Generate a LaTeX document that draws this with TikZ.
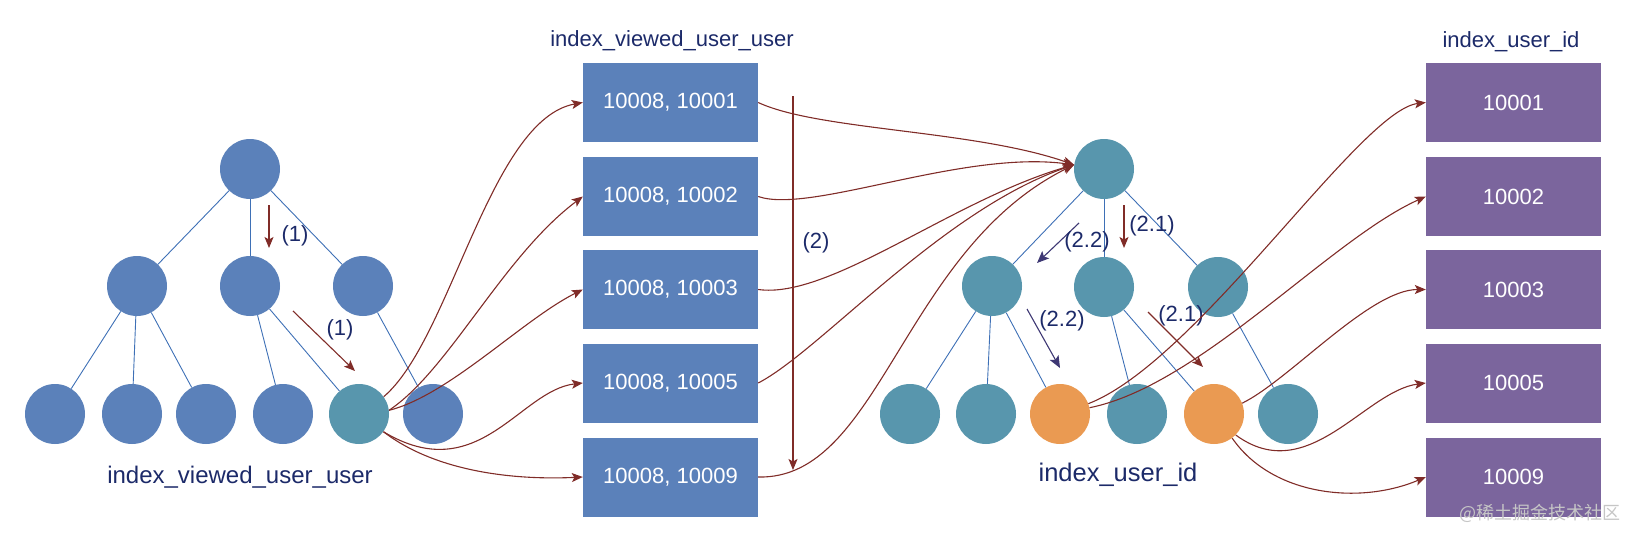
\documentclass[tikz,border=0pt]{standalone}
\usepackage{fontspec}
\setmainfont{Liberation Sans}
\newfontfamily\cjkfont{Noto Sans CJK SC}
\usetikzlibrary{arrows.meta}
\definecolor{cblue}{RGB}{91,129,186}
\definecolor{cteal}{RGB}{88,150,173}
\definecolor{corange}{RGB}{234,154,82}
\definecolor{cpurple}{RGB}{123,101,157}
\definecolor{cred}{RGB}{128,44,40}
\definecolor{cnavy}{RGB}{28,42,105}
\definecolor{cviolet}{RGB}{62,56,116}
\definecolor{cedge}{RGB}{62,112,182}
\begin{document}
\begin{tikzpicture}[x=1pt,y=-1pt,
  circ/.style={circle,minimum size=60pt,inner sep=0pt,draw=none},
  bnode/.style={circ,fill=cblue},
  tnode/.style={circ,fill=cteal},
  onode/.style={circ,fill=corange},
  kbox/.style={rectangle,minimum width=175pt,minimum height=79pt,inner sep=0pt,text=white,font=\fontsize{22}{26}\selectfont},
  bbox/.style={kbox,fill=cblue},
  pbox/.style={kbox,fill=cpurple},
  treeline/.style={draw=cedge,line width=0.9pt},
  arr/.style={draw=cred,line width=1.1pt,-{Stealth[length=11pt,width=9pt,inset=2.5pt]}},
  varr/.style={draw=cviolet,line width=1.1pt,-{Stealth[length=12pt,width=10pt,inset=2.5pt]}},
  lbl/.style={text=cnavy,font=\fontsize{22}{26}\selectfont,inner sep=0pt},
  ttl/.style={text=cnavy,inner sep=0pt,anchor=base},
]
\useasboundingbox (0,0) rectangle (1638,546);

% ---------- left tree ----------
\node[bnode] (LR) at (250,169) {};
\node[bnode] (LA) at (137,286) {};
\node[bnode] (LB) at (250,286) {};
\node[bnode] (LC) at (363,286) {};
\node[bnode] (L1) at (55,414) {};
\node[bnode] (L2) at (132,414) {};
\node[bnode] (L3) at (206,414) {};
\node[bnode] (L4) at (283,414) {};
\node[tnode] (L5) at (359,414) {};
\node[bnode] (L6) at (433,414) {};
\foreach \a/\b in {LR/LA,LR/LB,LR/LC,LA/L1,LA/L2,LA/L3,LB/L4,LB/L5,LC/L6}
  \draw[treeline] (\a) -- (\b);
\node[ttl,font=\fontsize{24}{28}\selectfont] (ltitle) at (240,483) {index\_viewed\_user\_user};

% ---------- middle tree ----------
\node[tnode] (MR) at (1104,169) {};
\node[tnode] (MA) at (992,286) {};
\node[tnode] (MB) at (1104,287) {};
\node[tnode] (MC) at (1218,287) {};
\node[tnode] (N1) at (910,414) {};
\node[tnode] (N2) at (986,414) {};
\node[onode] (N3) at (1060,414) {};
\node[tnode] (N4) at (1137,414) {};
\node[onode] (N5) at (1214,414) {};
\node[tnode] (N6) at (1288,414) {};
\foreach \a/\b in {MR/MA,MR/MB,MR/MC,MA/N1,MA/N2,MA/N3,MB/N4,MB/N5,MC/N6}
  \draw[treeline] (\a) -- (\b);
\node[ttl,font=\fontsize{25.5}{30}\selectfont] (mtitle) at (1118,481) {index\_user\_id};

% ---------- boxes ----------
\node[ttl,font=\fontsize{22}{26}\selectfont] (btitle) at (672,46) {index\_viewed\_user\_user};
\node[bbox] (B1) at (670.5,102.5) {10008, 10001};
\node[bbox] (B2) at (670.5,196.5) {10008, 10002};
\node[bbox] (B3) at (670.5,289.5) {10008, 10003};
\node[bbox] (B4) at (670.5,383) {10008, 10005};
\node[bbox] (B5) at (670.5,477) {10008, 10009};

\node[ttl,font=\fontsize{22}{26}\selectfont] (ptitle) at (1511,47) {index\_user\_id};
\node[pbox] (P1) at (1513.5,102.5) {10001};
\node[pbox] (P2) at (1513.5,196.5) {10002};
\node[pbox] (P3) at (1513.5,289.5) {10003};
\node[pbox] (P4) at (1513.5,383) {10005};
\node[pbox] (P5) at (1513.5,477) {10009};

% ---------- step arrows ----------
\coordinate (s1a) at (269,205); \coordinate (s1b) at (269,248);
\draw[arr] (s1a) -- (s1b);
\node[lbl] (l1a) at (295,236) {(1)};
\coordinate (s2a) at (293,311); \coordinate (s2b) at (355,371);
\draw[arr] (s2a) -- (s2b);
\node[lbl] (l1b) at (340,330) {(1)};

\coordinate (s3a) at (793,96); \coordinate (s3b) at (793,470);
\draw[arr] (s3a) -- (s3b);
\node[lbl] (l2) at (816,243) {(2)};

\coordinate (s4a) at (1124,205); \coordinate (s4b) at (1124,248);
\draw[arr] (s4a) -- (s4b);
\node[lbl] (l21a) at (1152,226) {(2.1)};
\coordinate (s5a) at (1148,312); \coordinate (s5b) at (1203,367);
\draw[arr] (s5a) -- (s5b);
\node[lbl] (l21b) at (1181,316) {(2.1)};

\coordinate (s6a) at (1079,223); \coordinate (s6b) at (1037,263);
\draw[varr] (s6a) -- (s6b);
\node[lbl] (l22a) at (1087,242) {(2.2)};
\coordinate (s7a) at (1027,309); \coordinate (s7b) at (1060,368);
\draw[varr] (s7a) -- (s7b);
\node[lbl] (l22b) at (1062,321) {(2.2)};

% ---------- leaf -> boxes ----------
\draw[arr] (L5.35) .. controls +(67,-57) and +(-93,17) .. (B1.west);
\draw[arr] (L5.7) .. controls +(60,-40) and +(-80,60) .. (B2.west);
\draw[arr] (L5.7) .. controls +(60,-15) and +(-60,30) .. (B3.west);
\draw[arr] (L5.-36) .. controls +(95,57) and +(-63,7) .. (B4.west);
\draw[arr] (L5.-36) .. controls +(55,42) and +(-63,3) .. (B5.west);

% ---------- boxes -> index root ----------
\draw[arr] (B1.east) .. controls +(60,28) and +(-100,-35) .. (MR.172);
\draw[arr] (B2.east) .. controls +(52,18) and +(-112,-15) .. (MR.172);
\draw[arr] (B3.east) .. controls +(72,10) and +(-122,35) .. (MR.172);
\draw[arr] (B4.east) .. controls +(62,-32) and +(-132,45) .. (MR.172);
\draw[arr] (B5.east) .. controls +(122,3) and +(-172,85) .. (MR.172);

% ---------- matched leaves -> purple boxes ----------
\draw[arr] (N3.20) .. controls +(110,-43) and +(-66,8) .. (P1.west);
\draw[arr] (N3.12) .. controls +(110,-22) and +(-96,43) .. (P2.west);
\draw[arr] (N5.21) .. controls +(47,-23) and +(-56,0) .. (P3.west);
\draw[arr] (N5.-44) .. controls +(72,53) and +(-61,8) .. (P4.west);
\draw[arr] (N5.-53) .. controls +(40,58) and +(-66,28) .. (P5.west);

\node[text=gray!45,font=\cjkfont\fontsize{18}{20}\selectfont,inner sep=0pt] (wm) at (1540,513) {@稀土掘金技术社区};
\end{tikzpicture}
\end{document}
